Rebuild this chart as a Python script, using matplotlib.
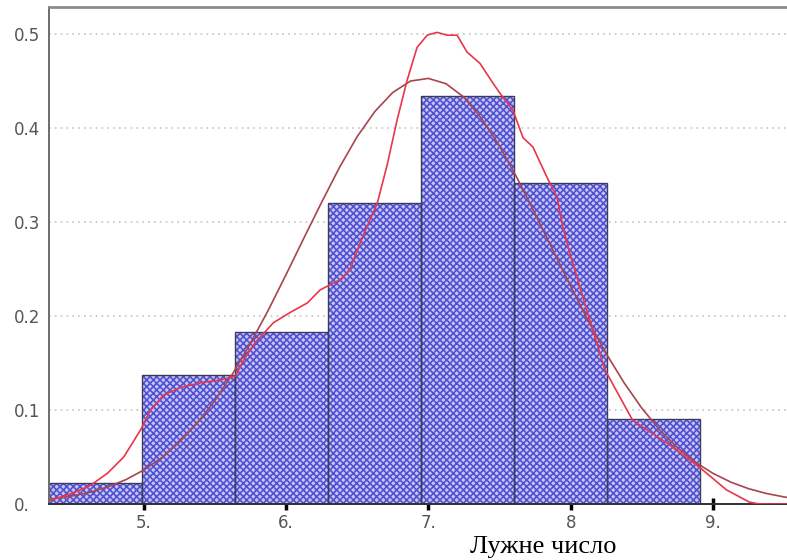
import numpy as np
import matplotlib
matplotlib.use("Agg")
import matplotlib.pyplot as plt

# histogram bins (left edges + last right edge) and relative frequency density
bin_edges = [4.335, 4.988, 5.641, 6.294, 6.947, 7.600, 8.253, 8.906]
freq = [0.022, 0.137, 0.183, 0.320, 0.434, 0.342, 0.091]

norm_x = [4.35, 4.5, 4.625, 4.75, 4.875, 5.0, 5.125, 5.25, 5.375, 5.5, 5.625,
          5.75, 5.875, 6.0, 6.125, 6.25, 6.375, 6.5, 6.625, 6.75, 6.875, 7.0,
          7.125, 7.25, 7.375, 7.5, 7.625, 7.75, 7.875, 8.0, 8.125, 8.25, 8.375,
          8.5, 8.625, 8.75, 8.875, 9.0, 9.125, 9.25, 9.375, 9.5, 9.53]
norm_y = [0.0052, 0.0086, 0.0126, 0.0183, 0.0259, 0.0361, 0.0491, 0.0657,
          0.0859, 0.110, 0.1386, 0.171, 0.2061, 0.244, 0.2828, 0.321, 0.358,
          0.391, 0.4179, 0.438, 0.4502, 0.453, 0.4473, 0.433, 0.410, 0.381,
          0.3466, 0.309, 0.2703, 0.232, 0.1945, 0.160, 0.1291, 0.102, 0.079,
          0.060, 0.0446, 0.0326, 0.0233, 0.0163, 0.0112, 0.0075, 0.0068]

# kernel density estimate
kde_x = [4.348, 4.509, 4.628, 4.748, 4.860, 4.979, 5.049, 5.140, 5.259, 5.400,
         5.540, 5.645, 5.701, 5.785, 5.912, 6.031, 6.150, 6.241, 6.332, 6.396,
         6.452, 6.543, 6.641, 6.711, 6.781, 6.851, 6.921, 6.992, 7.062, 7.132,
         7.202, 7.272, 7.363, 7.454, 7.504, 7.595, 7.665, 7.735, 7.833, 7.903,
         7.945, 7.994, 8.065, 8.114, 8.240, 8.436, 8.675, 8.906, 9.095, 9.256,
         9.327, 9.53]
kde_y = [0.004, 0.012, 0.020, 0.033, 0.050, 0.079, 0.100, 0.116, 0.124, 0.129,
         0.132, 0.136, 0.153, 0.172, 0.193, 0.204, 0.214, 0.228, 0.235, 0.240,
         0.251, 0.286, 0.320, 0.361, 0.409, 0.451, 0.486, 0.499, 0.502, 0.499,
         0.499, 0.481, 0.469, 0.448, 0.437, 0.419, 0.390, 0.380, 0.348, 0.327,
         0.295, 0.267, 0.231, 0.206, 0.143, 0.089, 0.065, 0.039, 0.015, 0.002,
         0.0, 0.0]

xticks = [5, 6, 7, 8, 9]
xtick_labels = ["5.", "6.", "7.", "8", "9."]
yticks = [0, 0.1, 0.2, 0.3, 0.4, 0.5]
ytick_labels = ["0.", "0.1", "0.2", "0.3", "0.4", "0.5"]

plt.rcParams['hatch.linewidth'] = 1.2

fig = plt.figure(figsize=(7.87, 5.6), dpi=100)
ax = fig.add_axes([49 / 787, 56 / 560, 1 - 49 / 787, (504 - 7) / 560])

widths = np.diff(bin_edges)
# crosshatch fill first (hatch takes the edge colour), then the outlines
ax.bar(bin_edges[:-1], freq, width=widths, align='edge',
       facecolor='#c6c6f8', edgecolor='#5252d0', linewidth=0,
       hatch='xxxxx', zorder=2)
ax.bar(bin_edges[:-1], freq, width=widths, align='edge',
       facecolor='none', edgecolor='#3c3c58', linewidth=1.0, zorder=2.5)

ax.plot(norm_x, norm_y, color='#a8444e', lw=1.2, zorder=3)
ax.plot(kde_x, kde_y, color='#e8364a', lw=1.2, zorder=4)

ax.set_xlim(4.335, 9.52)
ax.set_ylim(0, 0.529)

ax.yaxis.grid(True, color='#c4c4c4', linestyle=(0, (1, 2.5)), linewidth=1.2)
ax.set_axisbelow(True)

ax.set_xticks(xticks)
ax.set_xticklabels(xtick_labels)
ax.set_yticks(yticks)
ax.set_yticklabels(ytick_labels)
for lab in ax.get_yticklabels():
    lab.set_ha('left')

ax.tick_params(axis='x', direction='inout', length=8, width=2.5, color='black',
               labelsize=12, labelcolor='#555555', pad=3)
ax.tick_params(axis='y', length=0, labelsize=12, labelcolor='#555555', pad=25)

ax.spines['right'].set_visible(False)
ax.spines['top'].set_color('#8c8c8c')
ax.spines['top'].set_linewidth(2)
ax.spines['left'].set_color('#6c6c6c')
ax.spines['left'].set_linewidth(1.4)
ax.spines['bottom'].set_color('#303030')
ax.spines['bottom'].set_linewidth(1.4)

fig.text(543 / 787, 1 - 547 / 560, "Лужне число", ha='center', va='center',
         fontsize=19, family='Liberation Serif', color='black')

fig.savefig("out.png", dpi=100)
